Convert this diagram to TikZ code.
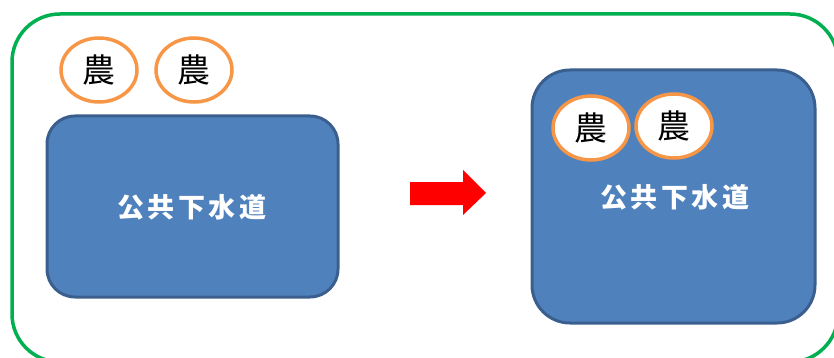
\documentclass[tikz,border=0pt]{standalone}
\usepackage{fontspec}
\newfontfamily\cjk{Noto Sans CJK JP}
\usetikzlibrary{shapes.geometric}
\definecolor{boxblue}{HTML}{4F81BD}
\definecolor{boxedge}{HTML}{3A5F8E}
\definecolor{nouorange}{HTML}{F79646}
\definecolor{framegreen}{HTML}{00B050}
\tikzset{
  x=1pt,y=-1pt,
  sewer/.style={draw=boxedge,line width=3pt,fill=boxblue,rounded corners=#1},
  nou/.style={ellipse,draw=nouorange,line width=3.5pt,fill=white,minimum width=76pt,minimum height=64pt,inner sep=0pt,font=\cjk\fontsize{33}{33}\selectfont},
  sewerlabel/.style={text=white,font=\cjk\bfseries\fontsize{27}{27}\selectfont,inner sep=0pt}
}
\begin{document}
\begin{tikzpicture}
\useasboundingbox (0,0) rectangle (834,358);
\begin{scope}
\clip (0,0) rectangle (834,358);
\draw[framegreen,line width=3.5pt,rounded corners=48pt] (12,14) rectangle (838,362);
\end{scope}
% left
\draw[sewer=28pt] (47,116) rectangle (338,297);
\node[sewerlabel] (lt) at (192,207) {公\kern3.5pt共\kern3.5pt下\kern3.5pt水\kern3.5pt道};
\node[nou] (l1) at (99,70) {農};
\node[nou] (l2) at (194,70) {農};
% arrow
\fill[red] (410,182) -- (463,182) -- (463,170) -- (486,193) -- (463,215) -- (463,205) -- (410,205) -- cycle;
% right
\draw[sewer=38pt] (532,70) rectangle (815,323);
\node[sewerlabel] (rt) at (675,197) {公\kern3.5pt共\kern3.5pt下\kern3.5pt水\kern3.5pt道};
\node[nou] (r1) at (591,128) {農};
\node[nou] (r2) at (674,126) {農};
\end{tikzpicture}
\end{document}
